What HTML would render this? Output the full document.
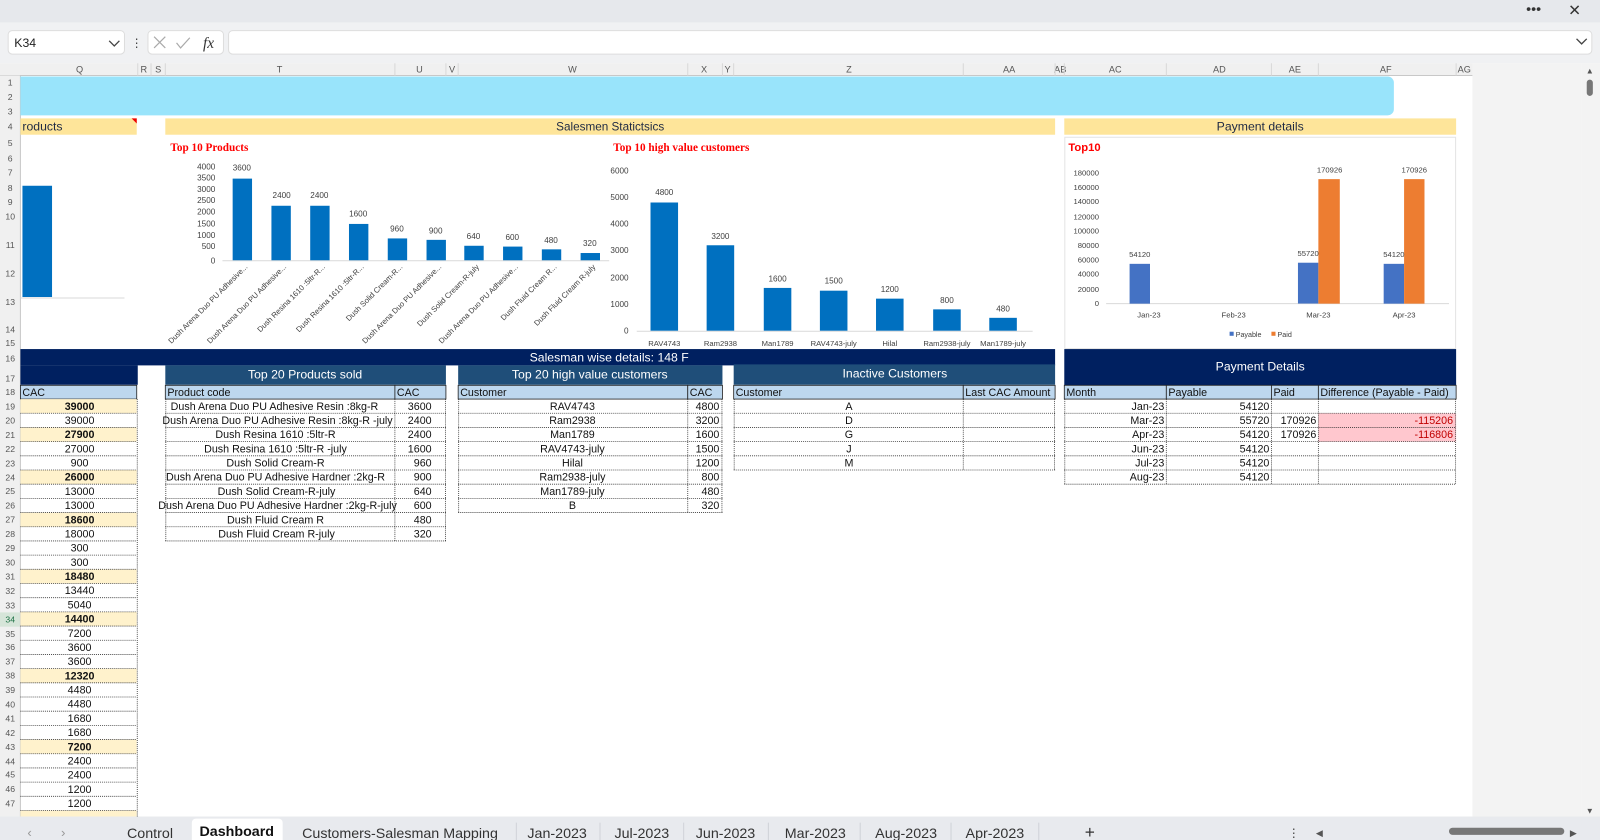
<!DOCTYPE html>
<html><head><meta charset="utf-8"><style>
html,body{margin:0;padding:0;width:1600px;height:840px;overflow:hidden;background:#fff}
svg{display:block;font-family:"Liberation Sans",sans-serif}
</style></head><body>
<svg width="1600" height="840" viewBox="0 0 1568 823" preserveAspectRatio="none" xmlns="http://www.w3.org/2000/svg">
<!-- chrome -->
<rect x="0" y="0" width="1568" height="22" fill="#e6e8ec"/>
<text x="1503" y="13" font-size="14" fill="#333" text-anchor="middle">•••</text>
<text x="1543" y="15" font-size="15" fill="#333" text-anchor="middle">✕</text>
<rect x="0" y="22" width="1568" height="40" fill="#f0f1f3"/>
<rect x="8" y="30" width="114" height="23" rx="4" fill="#fff" stroke="#ddd"/>
<text x="14" y="46" font-size="12" fill="#222">K34</text>
<path d="M107 40 l5 5 l5 -5" fill="none" stroke="#444" stroke-width="1.3"/>
<text x="134" y="46" font-size="12" fill="#444" text-anchor="middle">⋮</text>
<rect x="145" y="30" width="74" height="23" rx="4" fill="#fff" stroke="#ddd"/>
<path d="M151 36 l11 11 M162 36 l-11 11" stroke="#aaa" stroke-width="1.2"/>
<path d="M173 42 l4 5 l9 -10" fill="none" stroke="#aaa" stroke-width="1.2"/>
<text x="199" y="47" font-size="15" font-style="italic" font-family="Liberation Serif" fill="#333">fx</text>
<rect x="224" y="30" width="1336" height="23" rx="4" fill="#fff" stroke="#ddd"/>
<path d="M1545 38 l5 5 l5 -5" fill="none" stroke="#444" stroke-width="1.3"/>
<!-- column headers -->
<rect x="0" y="62" width="1443" height="12" fill="#f0f0f0"/>
<line x1="0" y1="74" x2="1443" y2="74" stroke="#c8c8c8"/>
<g font-size="9" fill="#555" text-anchor="middle">
<text x="78" y="71">Q</text><text x="141" y="71">R</text><text x="155" y="71">S</text><text x="274" y="71">T</text><text x="411" y="71">U</text><text x="443" y="71">V</text><text x="561" y="71">W</text><text x="690" y="71">X</text><text x="713" y="71">Y</text><text x="832" y="71">Z</text><text x="989" y="71">AA</text><text x="1039" y="71">AB</text><text x="1093" y="71">AC</text><text x="1195" y="71">AD</text><text x="1269" y="71">AE</text><text x="1358" y="71">AF</text><text x="1435" y="71">AG</text>
</g>
<g stroke="#d8d8d8"><line x1="135" y1="62" x2="135" y2="74"/><line x1="148" y1="62" x2="148" y2="74"/><line x1="162" y1="62" x2="162" y2="74"/><line x1="387" y1="62" x2="387" y2="74"/><line x1="437" y1="62" x2="437" y2="74"/><line x1="449" y1="62" x2="449" y2="74"/><line x1="674" y1="62" x2="674" y2="74"/><line x1="708" y1="62" x2="708" y2="74"/><line x1="719" y1="62" x2="719" y2="74"/><line x1="944" y1="62" x2="944" y2="74"/><line x1="1034" y1="62" x2="1034" y2="74"/><line x1="1043" y1="62" x2="1043" y2="74"/><line x1="1143" y1="62" x2="1143" y2="74"/><line x1="1246" y1="62" x2="1246" y2="74"/><line x1="1292" y1="62" x2="1292" y2="74"/><line x1="1427" y1="62" x2="1427" y2="74"/></g>
<!-- row header column -->
<rect x="0" y="74" width="20" height="726" fill="#f0f0f0"/>
<rect x="0" y="600" width="20" height="14" fill="#d6e5d9"/>
<line x1="20" y1="74" x2="20" y2="800" stroke="#c8c8c8"/>
<g font-size="8.5" fill="#555" text-anchor="middle">
<text x="10" y="84">1</text><text x="10" y="98">2</text><text x="10" y="112">3</text><text x="10" y="127">4</text><text x="10" y="143">5</text><text x="10" y="158">6</text><text x="10" y="172">7</text><text x="10" y="187">8</text><text x="10" y="201">9</text><text x="10" y="215">10</text><text x="10" y="243">11</text><text x="10" y="271">12</text><text x="10" y="299">13</text><text x="10" y="326">14</text><text x="10" y="339">15</text><text x="10" y="354">16</text><text x="10" y="374">17</text><text x="10" y="387">18</text>
<text x="10" y="401">19</text><text x="10" y="415">20</text><text x="10" y="429">21</text><text x="10" y="443">22</text><text x="10" y="457">23</text><text x="10" y="471">24</text><text x="10" y="484">25</text><text x="10" y="498">26</text><text x="10" y="512">27</text><text x="10" y="526">28</text><text x="10" y="540">29</text><text x="10" y="554">30</text><text x="10" y="568">31</text><text x="10" y="582">32</text><text x="10" y="596">33</text><text x="10" y="610" fill="#1e7145">34</text><text x="10" y="624">35</text><text x="10" y="637">36</text><text x="10" y="651">37</text><text x="10" y="665">38</text><text x="10" y="679">39</text><text x="10" y="693">40</text><text x="10" y="707">41</text><text x="10" y="721">42</text><text x="10" y="735">43</text><text x="10" y="749">44</text><text x="10" y="762">45</text><text x="10" y="776">46</text><text x="10" y="790">47</text>
</g>
<!-- right gray area & scrollbar -->
<rect x="1443" y="62" width="107" height="738" fill="#f3f3f3"/>
<rect x="1550" y="62" width="18" height="738" fill="#f3f3f3"/>
<rect x="1555" y="78" width="6" height="16" rx="3" fill="#777"/>
<text x="1558" y="72" font-size="8" fill="#555" text-anchor="middle">▲</text>
<text x="1558" y="797" font-size="8" fill="#555" text-anchor="middle">▼</text>

<!-- banner -->
<path d="M20 75 H1360 a6 6 0 0 1 6 6 V107 a6 6 0 0 1 -6 6 H20 Z" fill="#99e4fb"/>
<!-- yellow row 4 -->
<rect x="20" y="116" width="114" height="16" fill="#fee59a"/>
<path d="M129 116 h5 v5 z" fill="#e00"/>
<text x="22" y="128" font-size="12" fill="#1f2a44">roducts</text>
<rect x="162" y="116" width="872" height="16" fill="#fee59a"/>
<text x="598" y="128" font-size="11.5" fill="#1f2a44" text-anchor="middle">Salesmen Statictsics</text>
<rect x="1043" y="116" width="384" height="16" fill="#fee59a"/>
<text x="1235" y="128" font-size="12" fill="#1f2a44" text-anchor="middle">Payment details</text>

<!-- left partial chart -->
<rect x="22" y="182" width="29" height="109" fill="#0070c0"/>
<line x1="20" y1="292" x2="122" y2="292" stroke="#d9d9d9"/>

<!-- Chart 1 -->
<text x="167" y="148" font-size="11" font-weight="bold" font-family="Liberation Serif" fill="#f00">Top 10 Products</text>
<g font-size="8" fill="#404040" text-anchor="end">
<text x="211" y="166">4000</text><text x="211" y="177">3500</text><text x="211" y="188">3000</text><text x="211" y="199">2500</text><text x="211" y="210">2000</text><text x="211" y="222">1500</text><text x="211" y="233">1000</text><text x="211" y="244">500</text><text x="211" y="258">0</text>
</g>
<line x1="218" y1="255.5" x2="597" y2="255.5" stroke="#d9d9d9"/>
<g fill="#0070c0">
<rect x="228" y="175" width="19" height="80"/><rect x="266" y="201.6" width="19" height="53.4"/><rect x="304" y="201.6" width="19" height="53.4"/><rect x="342" y="219.4" width="19" height="35.6"/><rect x="380" y="233.6" width="19" height="21.4"/><rect x="418" y="235" width="19" height="20"/><rect x="455" y="240.8" width="19" height="14.2"/><rect x="493" y="241.6" width="19" height="13.4"/><rect x="531" y="244.3" width="19" height="10.7"/><rect x="569" y="247.9" width="19" height="7.1"/>
</g>
<g font-size="8" fill="#404040" text-anchor="middle">
<text x="237" y="167">3600</text><text x="276" y="194">2400</text><text x="313" y="194">2400</text><text x="351" y="212">1600</text><text x="389" y="227">960</text><text x="427" y="229">900</text><text x="464" y="234">640</text><text x="502" y="235">600</text><text x="540" y="238">480</text><text x="578" y="241">320</text>
</g>
<g font-size="7.5" fill="#404040" text-anchor="end">
<text transform="translate(243,262) rotate(-45)">Dush Arena Duo PU Adhesive...</text>
<text transform="translate(281,262) rotate(-45)">Dush Arena Duo PU Adhesive...</text>
<text transform="translate(319,262) rotate(-45)">Dush Resina 1610 :5ltr-R...</text>
<text transform="translate(357,262) rotate(-45)">Dush Resina 1610 :5ltr-R...</text>
<text transform="translate(395,262) rotate(-45)">Dush Solid Cream-R...</text>
<text transform="translate(433,262) rotate(-45)">Dush Arena Duo PU Adhesive...</text>
<text transform="translate(470,262) rotate(-45)">Dush Solid Cream-R-july</text>
<text transform="translate(508,262) rotate(-45)">Dush Arena Duo PU Adhesive...</text>
<text transform="translate(546,262) rotate(-45)">Dush Fluid Cream R...</text>
<text transform="translate(584,262) rotate(-45)">Dush Fluid Cream R-july</text>
</g>

<!-- Chart 2 -->
<text x="601" y="148" font-size="11" font-weight="bold" font-family="Liberation Serif" fill="#f00">Top 10 high value customers</text>
<g font-size="8" fill="#404040" text-anchor="end">
<text x="616" y="170">6000</text><text x="616" y="196">5000</text><text x="616" y="222">4000</text><text x="616" y="248">3000</text><text x="616" y="275">2000</text><text x="616" y="301">1000</text><text x="616" y="327">0</text>
</g>
<line x1="624" y1="324.5" x2="1012" y2="324.5" stroke="#d9d9d9"/>
<g fill="#0070c0">
<rect x="637.5" y="198.4" width="27" height="125.6"/><rect x="692.5" y="240.3" width="27" height="83.7"/><rect x="748.5" y="282.1" width="27" height="41.9"/><rect x="803.5" y="284.8" width="27" height="39.2"/><rect x="858.5" y="292.6" width="27" height="31.4"/><rect x="914.5" y="303.1" width="27" height="20.9"/><rect x="969.5" y="311.4" width="27" height="12.6"/>
</g>
<g font-size="8" fill="#404040" text-anchor="middle">
<text x="651" y="191">4800</text><text x="706" y="234">3200</text><text x="762" y="276">1600</text><text x="817" y="278">1500</text><text x="872" y="286">1200</text><text x="928" y="297">800</text><text x="983" y="305">480</text>
</g>
<g font-size="7.5" fill="#404040" text-anchor="middle">
<text x="651" y="339">RAV4743</text><text x="706" y="339">Ram2938</text><text x="762" y="339">Man1789</text><text x="817" y="339">RAV4743-july</text><text x="872" y="339">Hilal</text><text x="928" y="339">Ram2938-july</text><text x="983" y="339">Man1789-july</text>
</g>

<!-- Chart 3 -->
<rect x="1043.5" y="134.5" width="383" height="207" fill="#fff" stroke="#e4e4e4"/>
<text x="1047" y="148" font-size="11" font-weight="bold" fill="#f00">Top10</text>
<g font-size="7.5" fill="#404040" text-anchor="end">
<text x="1077" y="172">180000</text><text x="1077" y="186">160000</text><text x="1077" y="200">140000</text><text x="1077" y="215">120000</text><text x="1077" y="229">100000</text><text x="1077" y="243">80000</text><text x="1077" y="257">60000</text><text x="1077" y="271">40000</text><text x="1077" y="286">20000</text><text x="1077" y="300">0</text>
</g>
<line x1="1084" y1="297.5" x2="1420" y2="297.5" stroke="#d9d9d9"/>
<rect x="1107" y="258.5" width="20" height="39" fill="#4472c4"/>
<rect x="1272" y="257.4" width="20" height="40" fill="#4472c4"/><rect x="1292" y="175.5" width="21" height="122" fill="#ed7d31"/>
<rect x="1356" y="258.5" width="20" height="39" fill="#4472c4"/><rect x="1376" y="175.5" width="20" height="122" fill="#ed7d31"/>
<g font-size="7.5" fill="#404040" text-anchor="middle">
<text x="1117" y="252">54120</text><text x="1282" y="251">55720</text><text x="1303" y="169">170926</text><text x="1366" y="252">54120</text><text x="1386" y="169">170926</text>
<text x="1126" y="311">Jan-23</text><text x="1209" y="311">Feb-23</text><text x="1292" y="311">Mar-23</text><text x="1376" y="311">Apr-23</text>
</g>
<rect x="1205" y="325" width="4" height="4" fill="#4472c4"/><text x="1211" y="330" font-size="7" fill="#404040">Payable</text>
<rect x="1246" y="325" width="4" height="4" fill="#ed7d31"/><text x="1252" y="330" font-size="7" fill="#404040">Paid</text>

<!-- navy bars -->
<rect x="20" y="342" width="1014" height="16" fill="#002060"/>
<text x="597" y="354" font-size="12" fill="#fff" text-anchor="middle">Salesman wise details: 148 F</text>
<rect x="20" y="358" width="115" height="19" fill="#002060"/>
<rect x="162" y="358" width="275" height="19" fill="#1f4e79"/>
<text x="299" y="371" font-size="12" fill="#fff" text-anchor="middle">Top 20 Products sold</text>
<rect x="449" y="358" width="259" height="19" fill="#1f4e79"/>
<text x="578" y="371" font-size="12" fill="#fff" text-anchor="middle">Top 20 high value customers</text>
<rect x="719" y="357" width="315" height="20" fill="#1f4e79"/>
<text x="877" y="370" font-size="12" fill="#fff" text-anchor="middle">Inactive Customers</text>
<rect x="1043" y="342" width="384" height="36" fill="#002060"/>
<text x="1235" y="363" font-size="12" fill="#fff" text-anchor="middle">Payment Details</text>

<!-- header row 18 -->
<g fill="#bdd7ee" stroke="#222" stroke-width="0.8">
<rect x="20" y="377.5" width="114" height="13.5"/>
<rect x="162" y="377.5" width="225" height="13.5"/><rect x="387" y="377.5" width="50" height="13.5"/>
<rect x="449" y="377.5" width="225" height="13.5"/><rect x="674" y="377.5" width="34" height="13.5"/>
<rect x="719" y="377.5" width="225" height="13.5"/><rect x="944" y="377.5" width="90" height="13.5"/>
<rect x="1043" y="377.5" width="100" height="13.5"/><rect x="1143" y="377.5" width="103" height="13.5"/><rect x="1246" y="377.5" width="46" height="13.5"/><rect x="1292" y="377.5" width="135" height="13.5"/>
</g>
<g font-size="10.5" fill="#111">
<text x="22" y="388">CAC</text><text x="164" y="388">Product code</text><text x="389" y="388">CAC</text><text x="451" y="388">Customer</text><text x="676" y="388">CAC</text><text x="721" y="388">Customer</text><text x="946" y="388">Last CAC Amount</text><text x="1045" y="388">Month</text><text x="1145" y="388">Payable</text><text x="1248" y="388">Paid</text><text x="1294" y="388">Difference (Payable - Paid)</text>
</g>

<!-- left Q column highlights -->
<g fill="#fff2cc">
<rect x="20" y="391" width="114" height="13.9"/><rect x="20" y="418.8" width="114" height="13.9"/><rect x="20" y="460.5" width="114" height="13.9"/><rect x="20" y="502.2" width="114" height="13.9"/><rect x="20" y="557.8" width="114" height="13.9"/><rect x="20" y="599.5" width="114" height="13.9"/><rect x="20" y="655.1" width="114" height="13.9"/><rect x="20" y="724.6" width="114" height="13.9"/><rect x="20" y="794.1" width="114" height="6"/>
</g>
<g stroke="#333" stroke-width="0.8" stroke-dasharray="1,1" fill="none">
<line x1="20" y1="404.9" x2="134" y2="404.9"/><line x1="20" y1="418.8" x2="134" y2="418.8"/><line x1="20" y1="432.7" x2="134" y2="432.7"/><line x1="20" y1="446.6" x2="134" y2="446.6"/><line x1="20" y1="460.5" x2="134" y2="460.5"/><line x1="20" y1="474.4" x2="134" y2="474.4"/><line x1="20" y1="488.3" x2="134" y2="488.3"/><line x1="20" y1="502.2" x2="134" y2="502.2"/><line x1="20" y1="516.1" x2="134" y2="516.1"/><line x1="20" y1="530" x2="134" y2="530"/><line x1="20" y1="543.9" x2="134" y2="543.9"/><line x1="20" y1="557.8" x2="134" y2="557.8"/><line x1="20" y1="571.7" x2="134" y2="571.7"/><line x1="20" y1="585.6" x2="134" y2="585.6"/><line x1="20" y1="599.5" x2="134" y2="599.5"/><line x1="20" y1="613.4" x2="134" y2="613.4"/><line x1="20" y1="627.3" x2="134" y2="627.3"/><line x1="20" y1="641.2" x2="134" y2="641.2"/><line x1="20" y1="655.1" x2="134" y2="655.1"/><line x1="20" y1="669" x2="134" y2="669"/><line x1="20" y1="682.9" x2="134" y2="682.9"/><line x1="20" y1="696.8" x2="134" y2="696.8"/><line x1="20" y1="710.7" x2="134" y2="710.7"/><line x1="20" y1="724.6" x2="134" y2="724.6"/><line x1="20" y1="738.5" x2="134" y2="738.5"/><line x1="20" y1="752.4" x2="134" y2="752.4"/><line x1="20" y1="766.3" x2="134" y2="766.3"/><line x1="20" y1="780.2" x2="134" y2="780.2"/><line x1="20" y1="794.1" x2="134" y2="794.1"/>
<line x1="134.5" y1="391" x2="134.5" y2="800"/>
</g>
<g font-size="10.5" fill="#111" text-anchor="middle">
<text x="78" y="401.5" font-weight="bold">39000</text><text x="78" y="415.4">39000</text><text x="78" y="429.3" font-weight="bold">27900</text><text x="78" y="443.2">27000</text><text x="78" y="457.1">900</text><text x="78" y="471" font-weight="bold">26000</text><text x="78" y="484.9">13000</text><text x="78" y="498.8">13000</text><text x="78" y="512.7" font-weight="bold">18600</text><text x="78" y="526.6">18000</text><text x="78" y="540.5">300</text><text x="78" y="554.4">300</text><text x="78" y="568.3" font-weight="bold">18480</text><text x="78" y="582.2">13440</text><text x="78" y="596.1">5040</text><text x="78" y="610" font-weight="bold">14400</text><text x="78" y="623.9">7200</text><text x="78" y="637.8">3600</text><text x="78" y="651.7">3600</text><text x="78" y="665.6" font-weight="bold">12320</text><text x="78" y="679.5">4480</text><text x="78" y="693.4">4480</text><text x="78" y="707.3">1680</text><text x="78" y="721.2">1680</text><text x="78" y="735.1" font-weight="bold">7200</text><text x="78" y="749">2400</text><text x="78" y="762.9">2400</text><text x="78" y="776.8">1200</text><text x="78" y="790.7">1200</text>
</g>

<!-- Products table -->
<g stroke="#333" stroke-width="0.8" stroke-dasharray="1,1" fill="none">
<line x1="162" y1="404.9" x2="437" y2="404.9"/><line x1="162" y1="418.8" x2="437" y2="418.8"/><line x1="162" y1="432.7" x2="437" y2="432.7"/><line x1="162" y1="446.6" x2="437" y2="446.6"/><line x1="162" y1="460.5" x2="437" y2="460.5"/><line x1="162" y1="474.4" x2="437" y2="474.4"/><line x1="162" y1="488.3" x2="437" y2="488.3"/><line x1="162" y1="502.2" x2="437" y2="502.2"/><line x1="162" y1="516.1" x2="437" y2="516.1"/><line x1="162" y1="530" x2="437" y2="530"/>
<line x1="162.5" y1="391" x2="162.5" y2="530"/><line x1="387" y1="391" x2="387" y2="530"/><line x1="436.5" y1="391" x2="436.5" y2="530"/>
<line x1="449" y1="404.9" x2="708" y2="404.9"/><line x1="449" y1="418.8" x2="708" y2="418.8"/><line x1="449" y1="432.7" x2="708" y2="432.7"/><line x1="449" y1="446.6" x2="708" y2="446.6"/><line x1="449" y1="460.5" x2="708" y2="460.5"/><line x1="449" y1="474.4" x2="708" y2="474.4"/><line x1="449" y1="488.3" x2="708" y2="488.3"/><line x1="449" y1="502.2" x2="708" y2="502.2"/>
<line x1="449.5" y1="391" x2="449.5" y2="502.2"/><line x1="674" y1="391" x2="674" y2="502.2"/><line x1="707.5" y1="391" x2="707.5" y2="502.2"/>
<line x1="719" y1="404.9" x2="1034" y2="404.9"/><line x1="719" y1="418.8" x2="1034" y2="418.8"/><line x1="719" y1="432.7" x2="1034" y2="432.7"/><line x1="719" y1="446.6" x2="1034" y2="446.6"/><line x1="719" y1="460.5" x2="1034" y2="460.5"/>
<line x1="719.5" y1="391" x2="719.5" y2="460.5"/><line x1="944" y1="391" x2="944" y2="460.5"/><line x1="1033.5" y1="391" x2="1033.5" y2="460.5"/>
</g>
<g font-size="10.5" fill="#111" text-anchor="middle">
<text x="269" y="401.5">Dush Arena Duo PU Adhesive Resin :8kg-R</text>
<text x="272" y="415.4">Dush Arena Duo PU Adhesive Resin :8kg-R -july</text>
<text x="270" y="429.3">Dush Resina 1610 :5ltr-R</text>
<text x="270" y="443.2">Dush Resina 1610 :5ltr-R  -july</text>
<text x="270" y="457.1">Dush Solid Cream-R</text>
<text x="270" y="471">Dush Arena Duo PU Adhesive Hardner :2kg-R</text>
<text x="271" y="484.9">Dush Solid Cream-R-july</text>
<text x="272" y="498.8">Dush Arena Duo PU Adhesive Hardner :2kg-R-july</text>
<text x="270" y="512.7">Dush Fluid Cream R</text>
<text x="271" y="526.6">Dush Fluid Cream R-july</text>
<text x="561" y="401.5">RAV4743</text><text x="561" y="415.4">Ram2938</text><text x="561" y="429.3">Man1789</text><text x="561" y="443.2">RAV4743-july</text><text x="561" y="457.1">Hilal</text><text x="561" y="471">Ram2938-july</text><text x="561" y="484.9">Man1789-july</text><text x="561" y="498.8">B</text>
<text x="832" y="401.5">A</text><text x="832" y="415.4">D</text><text x="832" y="429.3">G</text><text x="832" y="443.2">J</text><text x="832" y="457.1">M</text>
</g>
<g font-size="10.5" fill="#111" text-anchor="end">
<text x="423" y="401.5">3600</text><text x="423" y="415.4">2400</text><text x="423" y="429.3">2400</text><text x="423" y="443.2">1600</text><text x="423" y="457.1">960</text><text x="423" y="471">900</text><text x="423" y="484.9">640</text><text x="423" y="498.8">600</text><text x="423" y="512.7">480</text><text x="423" y="526.6">320</text>
<text x="705" y="401.5">4800</text><text x="705" y="415.4">3200</text><text x="705" y="429.3">1600</text><text x="705" y="443.2">1500</text><text x="705" y="457.1">1200</text><text x="705" y="471">800</text><text x="705" y="484.9">480</text><text x="705" y="498.8">320</text>
</g>

<!-- Payment table -->
<rect x="1292" y="404.9" width="135" height="27.8" fill="#ffc7ce"/>
<g stroke="#333" stroke-width="0.8" stroke-dasharray="1,1" fill="none">
<line x1="1043" y1="404.9" x2="1427" y2="404.9"/><line x1="1043" y1="418.8" x2="1427" y2="418.8"/><line x1="1043" y1="432.7" x2="1427" y2="432.7"/><line x1="1043" y1="446.6" x2="1427" y2="446.6"/><line x1="1043" y1="460.5" x2="1427" y2="460.5"/><line x1="1043" y1="474.4" x2="1427" y2="474.4"/>
<line x1="1043.5" y1="391" x2="1043.5" y2="474.4"/><line x1="1143" y1="391" x2="1143" y2="474.4"/><line x1="1246" y1="391" x2="1246" y2="474.4"/><line x1="1292" y1="391" x2="1292" y2="474.4"/><line x1="1426.5" y1="391" x2="1426.5" y2="474.4"/>
</g>
<g font-size="10.5" fill="#111" text-anchor="end">
<text x="1141" y="401.5">Jan-23</text><text x="1141" y="415.4">Mar-23</text><text x="1141" y="429.3">Apr-23</text><text x="1141" y="443.2">Jun-23</text><text x="1141" y="457.1">Jul-23</text><text x="1141" y="471">Aug-23</text>
<text x="1244" y="401.5">54120</text><text x="1244" y="415.4">55720</text><text x="1244" y="429.3">54120</text><text x="1244" y="443.2">54120</text><text x="1244" y="457.1">54120</text><text x="1244" y="471">54120</text>
<text x="1290" y="415.4">170926</text><text x="1290" y="429.3">170926</text>
<text x="1424" y="415.4" fill="#c00000">-115206</text><text x="1424" y="429.3" fill="#c00000">-116806</text>
</g>

<!-- bottom tabs -->
<rect x="0" y="800" width="1568" height="23" fill="#e8eaee"/>
<text x="29" y="820" font-size="13" fill="#999" text-anchor="middle">‹</text>
<text x="62" y="820" font-size="13" fill="#999" text-anchor="middle">›</text>
<path d="M188 823 V806 a4 4 0 0 1 4 -4 H273 a4 4 0 0 1 4 4 V823 Z" fill="#fff"/>
<g font-size="14" fill="#333" text-anchor="middle">
<text x="147" y="821">Control</text>
<text x="232" y="819" font-weight="bold" fill="#111">Dashboard</text>
<text x="392" y="821">Customers-Salesman Mapping</text>
<text x="546" y="821">Jan-2023</text><text x="629" y="821">Jul-2023</text><text x="711" y="821">Jun-2023</text><text x="799" y="821">Mar-2023</text><text x="888" y="821">Aug-2023</text><text x="975" y="821">Apr-2023</text>
<text x="1068" y="821" font-size="17">+</text>
</g>
<g stroke="#cfd2d8"><line x1="506" y1="806" x2="506" y2="823"/><line x1="588" y1="806" x2="588" y2="823"/><line x1="670" y1="806" x2="670" y2="823"/><line x1="753" y1="806" x2="753" y2="823"/><line x1="843" y1="806" x2="843" y2="823"/><line x1="932" y1="806" x2="932" y2="823"/><line x1="1018" y1="806" x2="1018" y2="823"/></g>
<text x="1268" y="820" font-size="12" fill="#444" text-anchor="middle">⋮</text>
<text x="1293" y="819" font-size="9" fill="#555" text-anchor="middle">◀</text>
<rect x="1420" y="811" width="113" height="7" rx="3.5" fill="#777"/>
<text x="1542" y="819" font-size="9" fill="#555" text-anchor="middle">▶</text>
</svg>
</body></html>
